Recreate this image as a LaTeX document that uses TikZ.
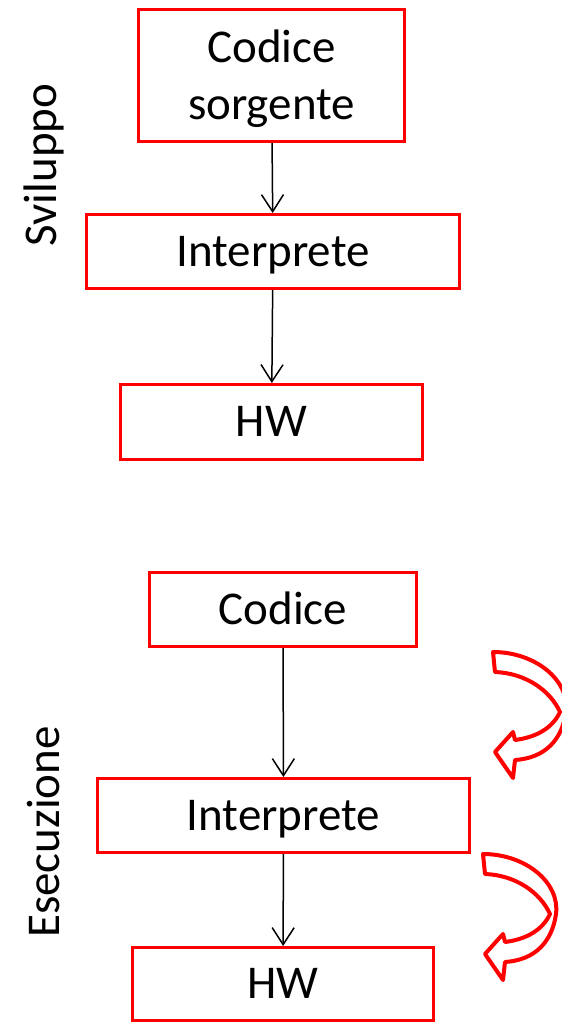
\documentclass[tikz,border=0pt]{standalone}
\usepackage{fontspec}
\setmainfont{Carlito}
\usepackage{tikz}
\usetikzlibrary{arrows.meta}
% the hollow curved arrow that loops back to the left
\newcommand{\loopback}{%
  \draw[red, line width=4pt, line join=round, fill=white]
    (493,652) .. controls (535,652) and (570,680) .. (566,712)
    .. controls (562,740) and (545,758) .. (515,760)
    -- (513,778) -- (495,752) -- (513,732) -- (515,740)
    .. controls (538,737) and (553,727) .. (560,712)
    .. controls (550,690) and (525,673) .. (495,672) -- cycle;
}

\begin{document}
\begin{tikzpicture}[x=1pt, y=-1pt,
  box/.style={draw=red, line width=3pt, inner sep=0pt,
    font=\fontsize{47}{57}\selectfont, align=center},
  one/.style={box, text height=36pt, text depth=7pt},
  side/.style={rotate=90, font=\fontsize{47}{57}\selectfont},
  flow/.style={line width=1.5pt, -{Straight Barb[length=17pt,width=22pt]}}]
\useasboundingbox (0,0) rectangle (562,1023);
\clip (0,0) rectangle (562,1023);

% sviluppo
\node[box, text depth=2pt, minimum width=266, minimum height=132] (src) at (271.5,75.5) {Codice\\sorgente};
\node[one, minimum width=373, minimum height=74] (int1) at (273,251.5) {Interprete};
\node[one, minimum width=302, minimum height=75] (hw1) at (271.5,422) {HW};
\node[side] (dev) at (44,165) {Sviluppo};
\draw[flow] (src) -- (int1);
\draw[flow] (int1) -- (hw1);

% esecuzione
\node[one, minimum width=267, minimum height=74] (code) at (283,609.5) {Codice};
\node[one, minimum width=372, minimum height=74] (int2) at (283.5,815.5) {Interprete};
\node[one, minimum width=301, minimum height=73] (hw2) at (283,984) {HW};
\node[side] (run) at (44,832) {Esecuzione};
\draw[flow] (code) -- (int2);
\draw[flow] (int2) -- (hw2);

% loops on the right
\loopback
\begin{scope}[shift={(-10,202)}]
\loopback
\end{scope}

\end{tikzpicture}
\end{document}
